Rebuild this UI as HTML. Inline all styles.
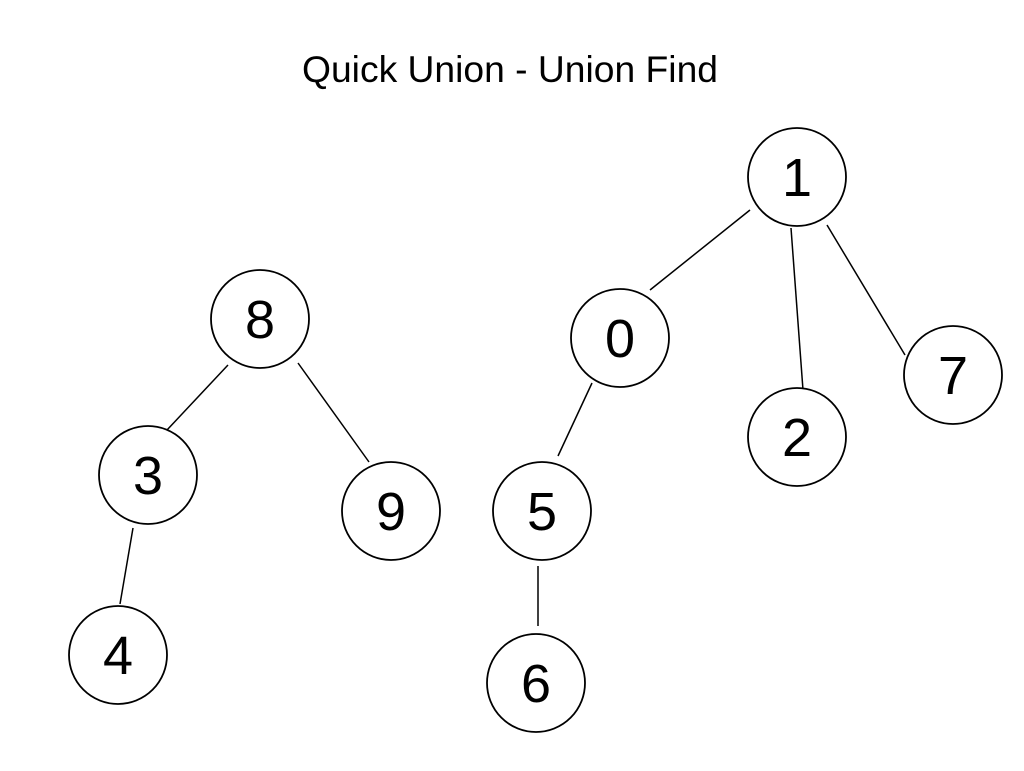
<!DOCTYPE html>
<html><head><style>html,body{margin:0;padding:0;background:#fff}</style></head><body>
<svg width="1024" height="766" xmlns="http://www.w3.org/2000/svg">
<rect width="1024" height="766" fill="#fff"/>
<text x="510" y="82" font-family="Liberation Sans, sans-serif" font-size="37" text-anchor="middle" fill="#000" textLength="416" lengthAdjust="spacingAndGlyphs">Quick Union - Union Find</text>
<g stroke="#000" stroke-width="1.5" fill="none">
<line x1="750" y1="210" x2="650" y2="290"/>
<line x1="791" y1="228" x2="803" y2="390"/>
<line x1="827" y1="225" x2="905" y2="355"/>
<line x1="228" y1="365" x2="167" y2="430"/>
<line x1="298" y1="363" x2="369" y2="462"/>
<line x1="592" y1="383" x2="558" y2="456"/>
<line x1="538" y1="566" x2="538" y2="626"/>
<line x1="133" y1="528" x2="120" y2="604"/>
</g>
<g stroke="#000" stroke-width="1.8" fill="#fff">
<circle cx="797" cy="177" r="49"/>
<circle cx="260" cy="319" r="49"/>
<circle cx="620" cy="338" r="49"/>
<circle cx="148" cy="475" r="49"/>
<circle cx="391" cy="511" r="49"/>
<circle cx="542" cy="511" r="49"/>
<circle cx="797" cy="437" r="49"/>
<circle cx="953" cy="375" r="49"/>
<circle cx="118" cy="655" r="49"/>
<circle cx="536" cy="683" r="49"/>
</g>
<g font-family="Liberation Sans, sans-serif" font-size="54" text-anchor="middle" fill="#000">
<text x="797" y="196">1</text>
<text x="260" y="338">8</text>
<text x="620" y="357">0</text>
<text x="148" y="494">3</text>
<text x="391" y="530">9</text>
<text x="542" y="530">5</text>
<text x="797" y="456">2</text>
<text x="953" y="394">7</text>
<text x="118" y="674">4</text>
<text x="536" y="702">6</text>
</g>
</svg>
</body></html>
